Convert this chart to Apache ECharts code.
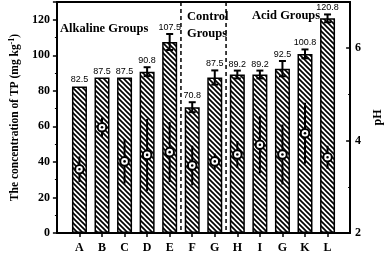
<!DOCTYPE html>
<html><head><meta charset="utf-8">
<script src="https://cdn.jsdelivr.net/npm/echarts@6/dist/echarts.min.js"></script>
<style>html,body{margin:0;padding:0;background:#fff}#c{width:392px;height:254px}</style>
</head><body><div id="c"></div>
<script>
const categories = ['A','B','C','D','E','F','G','H','I','G','K','L'];
const tpValues = [82.5,87.5,87.5,90.8,107.5,70.8,87.5,89.2,89.2,92.5,100.8,120.8];
const tpErrors = [0,0,0,2.5,4.5,2.8,4,2.2,2.2,4.3,2.5,2.2];
const phValues = [3.38,4.29,3.55,3.69,3.75,3.46,3.55,3.70,3.91,3.70,4.16,3.64];
const phErrors = [0.28,0.21,0.48,0.78,0.65,0.43,0.17,0.29,0.62,0.65,0.66,0.25];
const groupBreaks = [5, 7];
const groupNames = ['Alkaline Groups', 'Control\nGroups', 'Acid Groups'];

const SERIF = '"Liberation Serif","Times New Roman",serif';
const SANS = '"Liberation Sans",Arial,sans-serif';

const pc = document.createElement('canvas');
pc.width = 5; pc.height = 5;
const g = pc.getContext('2d');
g.fillStyle = '#fff'; g.fillRect(0,0,5,5);
g.strokeStyle = '#000'; g.lineWidth = 1.7;
for (const k of [-5,0,5]) { g.beginPath(); g.moveTo(k-1,-1); g.lineTo(k+6,6); g.stroke(); }

const xData = [''].concat(categories, ['']);
const barData = tpValues.map((v,i)=>[i+1, v]);
const tpErrData = tpValues.map((v,i)=>[i+1, v, tpErrors[i]]);
const phData = phValues.map((v,i)=>[i+1, v, phErrors[i]]);

const chart = echarts.init(document.getElementById('c'), null, {renderer:'canvas'});
chart.setOption({
  animation: false,
  grid: {left: 52, right: 28, top: 2, bottom: 21},
  xAxis: [{
    type: 'category', data: xData, boundaryGap: false,
    axisLine: {lineStyle: {color:'#000', width: 2}},
    axisTick: {length: 4, lineStyle:{width:1.5, color:'#000'}, interval: (i, v) => v !== ''},
    axisLabel: {interval: 0, margin: 9, color:'#000', fontFamily: SERIF, fontWeight:'bold', fontSize: 12}
  },{
    type: 'category', data: xData, boundaryGap: false, position: 'top',
    axisLine: {lineStyle: {color:'#000', width: 2}},
    axisTick: {show:false}, axisLabel: {show:false}
  }],
  yAxis: [{
    type: 'value', min: 0, max: 130, interval: 20, position: 'left',
    name: '{t|The concentration of TP (mg kg}{s|-1}{t|)}',
    nameLocation: 'middle', nameRotate: 90, nameGap: 34,
    nameTextStyle: {rich: {
      t: {fontFamily: SERIF, fontWeight:'bold', fontSize: 11.5, color:'#000'},
      s: {fontFamily: SERIF, fontWeight:'bold', fontSize: 8, color:'#000', verticalAlign:'top', padding:[0,0,6,0]}
    }},
    splitLine: {show:false},
    axisLine: {show:true, lineStyle: {color:'#000', width: 2}},
    axisTick: {show:true, length: 4, lineStyle:{width:1.5, color:'#000'}},
    minorTick: {show:true, splitNumber: 2, length: 2, lineStyle:{width:1, color:'#000'}},
    axisLabel: {margin: 7, color:'#000', fontFamily: SERIF, fontWeight:'bold', fontSize: 12,
      formatter: v => (v % 20 === 0 ? String(v) : '')}
  },{
    type: 'value', min: 2, max: 7, interval: 2, position: 'right',
    name: 'pH', nameLocation: 'middle', nameRotate: 90, nameGap: 14,
    nameTextStyle: {fontFamily: SERIF, fontWeight:'bold', fontSize: 12, color:'#000'},
    splitLine: {show:false},
    axisLine: {show:true, lineStyle: {color:'#000', width: 2}},
    axisTick: {show:true, inside:true, length: 4, lineStyle:{width:1.5, color:'#000'}},
    minorTick: {show:true, splitNumber: 2, length: 2, lineStyle:{width:1, color:'#000'}},
    axisLabel: {margin: 5, color:'#000', fontFamily: SERIF, fontWeight:'bold', fontSize: 12,
      formatter: v => (v % 2 === 0 ? String(v) : '')}
  }],
  graphic: [
    {type:'text', left: 60, top: 22, style:{text: groupNames[0], font: 'bold 12.5px ' + SERIF, fill:'#000'}},
    {type:'text', left: 187, top: 8, style:{text: groupNames[1], font: 'bold 12.5px ' + SERIF, fill:'#000', lineHeight: 17}},
    {type:'text', left: 252, top: 9, style:{text: groupNames[2], font: 'bold 12.5px ' + SERIF, fill:'#000'}}
  ],
  series: [{
    type: 'bar', data: barData, barWidth: 15, z: 2,
    itemStyle: {color: {image: pc, repeat: 'repeat'}, borderColor:'#000', borderWidth: 1.5}
  },{
    type: 'custom', zlevel: 1, data: groupBreaks.map(b => [b]),
    renderItem: (params, api) => {
      const b = api.value(0);
      const a1 = api.coord([b, 0]), a2 = api.coord([b+1, 0]);
      const x = (a1[0] + a2[0]) / 2;
      const top = api.coord([b, 130])[1];
      return {type:'line', shape:{x1:x, y1:top, x2:x, y2:a1[1]},
        style:{stroke:'#000', lineWidth:1.5, lineDash:[4,3]}};
    }
  },{
    type: 'custom', zlevel: 1, data: tpErrData,
    renderItem: (params, api) => {
      const i = api.value(0), v = api.value(1), e = api.value(2);
      const p = api.coord([i, v]);
      const hi = api.coord([i, v + e]);
      const lo = api.coord([i, v - e]);
      const ch = [];
      if (e > 0) {
        ch.push({type:'line', shape:{x1:p[0], y1:hi[1], x2:p[0], y2:lo[1]}, style:{stroke:'#000', lineWidth:2}});
        ch.push({type:'line', shape:{x1:p[0]-3.5, y1:hi[1], x2:p[0]+3.5, y2:hi[1]}, style:{stroke:'#000', lineWidth:2}});
        ch.push({type:'line', shape:{x1:p[0]-3.5, y1:lo[1], x2:p[0]+3.5, y2:lo[1]}, style:{stroke:'#000', lineWidth:2}});
      }
      ch.push({type:'text', style:{text: v.toFixed(1), x: p[0], y: hi[1] - 2, align:'center', verticalAlign:'bottom',
        font: '9px ' + SANS, fill:'#000'}});
      return {type:'group', children: ch};
    }
  },{
    type: 'custom', yAxisIndex: 1, zlevel: 2, data: phData,
    renderItem: (params, api) => {
      const i = api.value(0), v = api.value(1), e = api.value(2);
      const p = api.coord([i, v]);
      const hi = api.coord([i, v + e]);
      const lo = api.coord([i, v - e]);
      return {type:'group', children: [
        {type:'line', shape:{x1:p[0], y1:hi[1], x2:p[0], y2:lo[1]}, style:{stroke:'#000', lineWidth:2}},
        {type:'circle', shape:{cx:p[0], cy:p[1], r:4.3}, style:{fill:'#fff', stroke:'#000', lineWidth:2}},
        {type:'circle', shape:{cx:p[0], cy:p[1], r:1.3}, style:{fill:'#000'}}
      ]};
    }
  }]
});
</script></body></html>
